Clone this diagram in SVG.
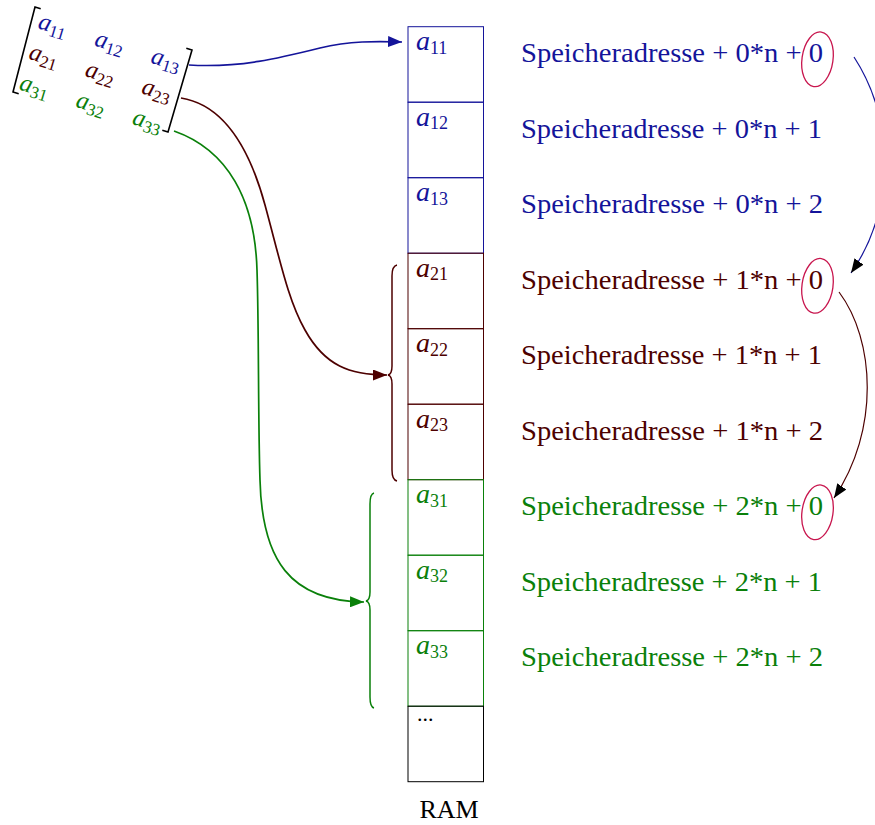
<svg xmlns="http://www.w3.org/2000/svg" width="875" height="825" viewBox="0 0 875 825">
  <style>
    text { font-family: "Liberation Serif", "DejaVu Serif", serif; }
    .blue { fill: #14149a; }
    .brown { fill: #4d0000; }
    .green { fill: #0a800a; }
    .addr { font-size: 27px; }
    .var { font-style: italic; }
    .cellvar { font-size: 28px; }
    .cellsub { font-size: 18px; font-style: normal; }
    .mvar { font-size: 25px; }
    .msub { font-size: 17px; font-style: normal; }
    .cell { fill: none; stroke-width: 1; }
    .ring { fill: none; stroke: #c8164e; stroke-width: 1.3; }
    .brace { fill: none; stroke-width: 1.5; }
    .bracket { fill: none; stroke: #000; stroke-width: 1.6; }
  </style>
  <defs>
    <marker id="headBlue" markerUnits="userSpaceOnUse" markerWidth="14" markerHeight="11" refX="14" refY="5.5" orient="auto">
      <path d="M0,0 L14,5.5 L0,11 z" fill="#14149a"/>
    </marker>
    <marker id="headBrown" markerUnits="userSpaceOnUse" markerWidth="14" markerHeight="11" refX="14" refY="5.5" orient="auto">
      <path d="M0,0 L14,5.5 L0,11 z" fill="#4d0000"/>
    </marker>
    <marker id="headGreen" markerUnits="userSpaceOnUse" markerWidth="14" markerHeight="11" refX="14" refY="5.5" orient="auto">
      <path d="M0,0 L14,5.5 L0,11 z" fill="#0a800a"/>
    </marker>
    <marker id="headBlack" markerUnits="userSpaceOnUse" markerWidth="14" markerHeight="11" refX="14" refY="5.5" orient="auto">
      <path d="M0,0 L14,5.5 L0,11 z" fill="#000"/>
    </marker>
  </defs>

  <!-- 3x3 matrix, tilted -->
  <g id="matrix">
    <path class="bracket" d="M40.7,8.8 L35,7 L13,92 L18.7,93.7"/>
    <path class="bracket" d="M186.3,48.2 L192,50 L168,132 L162.3,130.2"/>
    <g transform="translate(37,28) rotate(17)">
      <text class="var mvar blue" x="0" y="0">a<tspan class="msub" dy="4">11</tspan></text>
      <text class="var mvar blue" x="59" y="0">a<tspan class="msub" dy="4">12</tspan></text>
      <text class="var mvar blue" x="118" y="0">a<tspan class="msub" dy="4">13</tspan></text>
      <text class="var mvar brown" x="0" y="32">a<tspan class="msub" dy="4">21</tspan></text>
      <text class="var mvar brown" x="59" y="32">a<tspan class="msub" dy="4">22</tspan></text>
      <text class="var mvar brown" x="118" y="32">a<tspan class="msub" dy="4">23</tspan></text>
      <text class="var mvar green" x="0" y="64">a<tspan class="msub" dy="4">31</tspan></text>
      <text class="var mvar green" x="59" y="64">a<tspan class="msub" dy="4">32</tspan></text>
      <text class="var mvar green" x="118" y="64">a<tspan class="msub" dy="4">33</tspan></text>
    </g>
  </g>

  <!-- RAM column -->
  <g id="ram">
    <rect class="cell" x="408" y="26.7" width="75.5" height="75.5" stroke="#14149a"/>
    <rect class="cell" x="408" y="102.2" width="75.5" height="75.5" stroke="#14149a"/>
    <rect class="cell" x="408" y="177.7" width="75.5" height="75.5" stroke="#14149a"/>
    <rect class="cell" x="408" y="253.2" width="75.5" height="75.5" stroke="#4d0000"/>
    <rect class="cell" x="408" y="328.7" width="75.5" height="75.5" stroke="#4d0000"/>
    <rect class="cell" x="408" y="404.2" width="75.5" height="75.5" stroke="#4d0000"/>
    <rect class="cell" x="408" y="479.7" width="75.5" height="75.5" stroke="#0a800a"/>
    <rect class="cell" x="408" y="555.2" width="75.5" height="75.5" stroke="#0a800a"/>
    <rect class="cell" x="408" y="630.7" width="75.5" height="75.5" stroke="#0a800a"/>
    <rect class="cell" x="408" y="706.2" width="75.5" height="75.5" stroke="#000"/>
    <text class="var cellvar blue" x="416" y="50.2">a<tspan class="cellsub" dy="3.5">11</tspan></text>
    <text class="var cellvar blue" x="416" y="125.7">a<tspan class="cellsub" dy="3.5">12</tspan></text>
    <text class="var cellvar blue" x="416" y="201.2">a<tspan class="cellsub" dy="3.5">13</tspan></text>
    <text class="var cellvar brown" x="416" y="276.7">a<tspan class="cellsub" dy="3.5">21</tspan></text>
    <text class="var cellvar brown" x="416" y="352.2">a<tspan class="cellsub" dy="3.5">22</tspan></text>
    <text class="var cellvar brown" x="416" y="427.7">a<tspan class="cellsub" dy="3.5">23</tspan></text>
    <text class="var cellvar green" x="416" y="503.2">a<tspan class="cellsub" dy="3.5">31</tspan></text>
    <text class="var cellvar green" x="416" y="578.7">a<tspan class="cellsub" dy="3.5">32</tspan></text>
    <text class="var cellvar green" x="416" y="654.2">a<tspan class="cellsub" dy="3.5">33</tspan></text>
    <text x="417" y="721" font-size="22" fill="#000">...</text>
    <text x="449" y="818" font-size="26" fill="#000" text-anchor="middle">RAM</text>
  </g>

  <!-- address formulas -->
  <g id="addresses">
    <text class="addr blue" x="521" y="62" textLength="302" lengthAdjust="spacingAndGlyphs">Speicheradresse + 0*n + 0</text>
    <text class="addr blue" x="521" y="137.5" textLength="301" lengthAdjust="spacingAndGlyphs">Speicheradresse + 0*n + 1</text>
    <text class="addr blue" x="521" y="213" textLength="302" lengthAdjust="spacingAndGlyphs">Speicheradresse + 0*n + 2</text>
    <text class="addr brown" x="521" y="288.5" textLength="302" lengthAdjust="spacingAndGlyphs">Speicheradresse + 1*n + 0</text>
    <text class="addr brown" x="521" y="364" textLength="301" lengthAdjust="spacingAndGlyphs">Speicheradresse + 1*n + 1</text>
    <text class="addr brown" x="521" y="439.5" textLength="302" lengthAdjust="spacingAndGlyphs">Speicheradresse + 1*n + 2</text>
    <text class="addr green" x="521" y="515" textLength="302" lengthAdjust="spacingAndGlyphs">Speicheradresse + 2*n + 0</text>
    <text class="addr green" x="521" y="590.5" textLength="301" lengthAdjust="spacingAndGlyphs">Speicheradresse + 2*n + 1</text>
    <text class="addr green" x="521" y="666" textLength="302" lengthAdjust="spacingAndGlyphs">Speicheradresse + 2*n + 2</text>
    <ellipse class="ring" cx="817.5" cy="59.3" rx="15.5" ry="27.5" transform="rotate(8 817.5 59.3)"/>
    <ellipse class="ring" cx="817.5" cy="285.8" rx="15.5" ry="27.5" transform="rotate(8 817.5 285.8)"/>
    <ellipse class="ring" cx="817.5" cy="512.3" rx="15.5" ry="27.5" transform="rotate(8 817.5 512.3)"/>
  </g>

  <!-- braces grouping the rows in memory -->
  <g id="braces">
    <path class="brace" stroke="#4d0000" d="M397,265 Q392,266 392,276 L392,366 Q392,374 388,375 Q392,376 392,384 L392,470 Q392,480 397,481"/>
    <path class="brace" stroke="#0a800a" d="M374,493 Q370,494 370,504 L370,592 Q370,600 366,601 Q370,602 370,610 L370,697 Q370,707 374,708"/>
  </g>

  <!-- connectors -->
  <g id="connectors" fill="none">
    <path stroke="#14149a" stroke-width="1.7" marker-end="url(#headBlue)" d="M189,65 C240,68 280,58 320,48 C350,41 375,41 402,42"/>
    <path stroke="#4d0000" stroke-width="1.7" marker-end="url(#headBrown)" d="M181,98 C225,105 250,150 265,205 C280,260 288,300 305,330 C325,366 350,375 387,375"/>
    <path stroke="#0a800a" stroke-width="1.7" marker-end="url(#headGreen)" d="M174,131 C228,150 255,200 257,270 C259,330 258,420 260,480 C262,560 290,601 364,602"/>
    <path stroke="#14149a" stroke-width="1.2" marker-end="url(#headBlack)" d="M854,57 C895,120 895,210 851,273"/>
    <path stroke="#4d0000" stroke-width="1.2" marker-end="url(#headBlack)" d="M839,292 C875,340 880,430 834,498"/>
  </g>
</svg>
